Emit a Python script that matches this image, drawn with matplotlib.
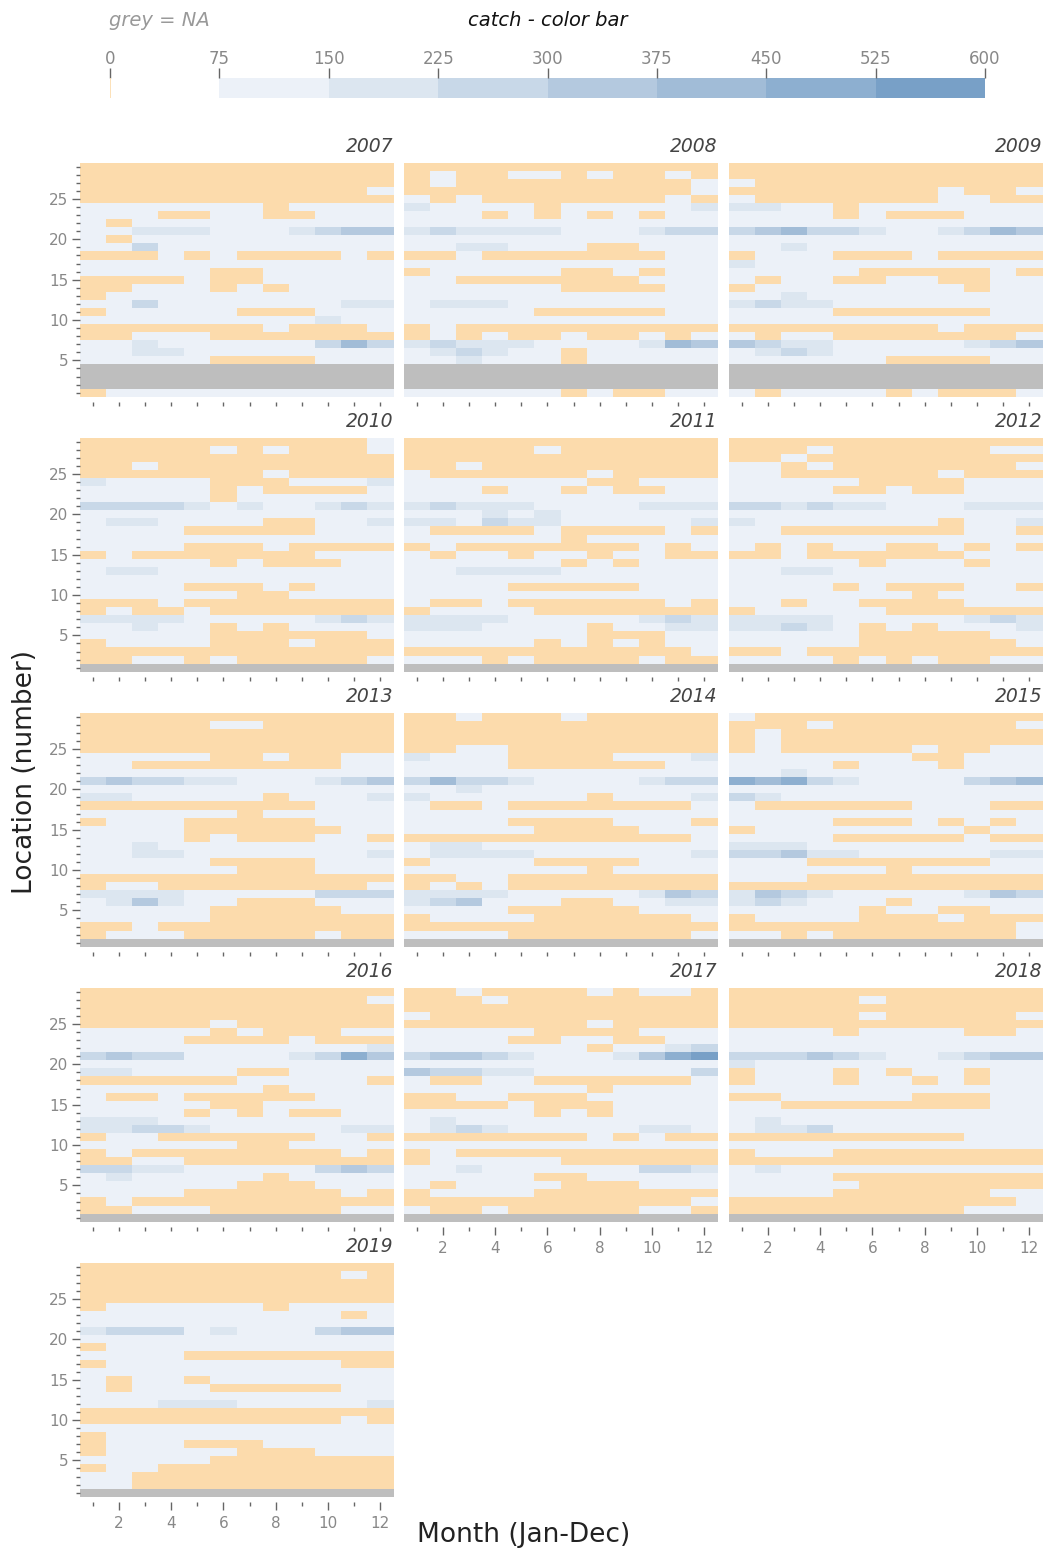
import numpy as np
import matplotlib
matplotlib.use('Agg')
import matplotlib.pyplot as plt
from matplotlib.colors import ListedColormap, BoundaryNorm

# ---- data -------------------------------------------------------------
years = [2007, 2008, 2009, 2010, 2011, 2012, 2013, 2014, 2015, 2016, 2017, 2018, 2019]
months = list(range(1, 13))
locations = list(range(1, 30))

# colour class of each cell, one string per location
# (location 29 first, Jan..Dec left to right)
# '0' = zero catch, '1'..'7' = catch class of the colour bar, '-' = NA
catch_2007 = ["000000000000", "000000000000", "000000000000", "000000000001", "000000000000",
              "111111101111", "111001100111", "101111111111", "112221112344", "101111111111",
              "113111111111", "000101000010", "111111111111", "111110011111", "000010011111",
              "001110101111", "011111111111", "113111111122", "011111000111", "111111111211",
              "000000010001", "001110000000", "112111111353", "112211111111", "111110000111",
              "------------", "------------", "------------", "011111111111"]
catch_2008 = ["000000000000", "010011010010", "010000000001", "000000000001", "101000000010",
              "211110111112", "111010101011", "111111111111", "232222111233", "111111111111",
              "112211100111", "001000000011", "111111111111", "011111001011", "110000000111",
              "111111000011", "111111111111", "122211111111", "111110000011", "111111111111",
              "010000000000", "010100100101", "232221111254", "123211011111", "112111011111",
              "------------", "------------", "------------", "111111010011"]
catch_2009 = ["000000000000", "000000000000", "100000000000", "000000001001", "100000001100",
              "221101111111", "111101000111", "111111111111", "345332112354", "111111111111",
              "112111111111", "011100010000", "211111111111", "111110000010", "101100110011",
              "011111111011", "112111111111", "232211111111", "111100000011", "111111111111",
              "000000001000", "101100000001", "432211111234", "123211111111", "111111000011",
              "------------", "------------", "------------", "101111010001"]
catch_2010 = ["000000000001", "000001010001", "000000000000", "001000000000", "000000010000",
              "211110001112", "111110100001", "111110111111", "333321211232", "111111111111",
              "122111100112", "111100000111", "111111111111", "111100010000", "010000000111",
              "111110100011", "122111111111", "111111111111", "111100010111", "111111001111",
              "000100000000", "010010000000", "222211111232", "112110101111", "111110000001",
              "011110001000", "000000000000", "001101000001", "------------"]
catch_2011 = ["000000000000", "000001000000", "000000000000", "001000000000", "100000010000",
              "111111100111", "111011010011", "111111111111", "232221111222", "111212111111",
              "221322111112", "100001000010", "111111011111", "010000000101", "101101101100",
              "111111010111", "112222111111", "111111111111", "111100000111", "111111111111",
              "100100000010", "011110000000", "222211111232", "222111101122", "111111100011",
              "111110101011", "000000000001", "111010000100", "------------"]
catch_2012 = ["000000000000", "000100000011", "001000000000", "110100000001", "110000001000",
              "111110000111", "111100100111", "111111111111", "332322111222", "111111111111",
              "211111110112", "110000000110", "111111111111", "101011001010", "001000000111",
              "111110111011", "112211111111", "111111111111", "111101000110", "111111101111",
              "110110000111", "011111000000", "222211111232", "223210101112", "111110000011",
              "111110000001", "001000000000", "111101010011", "------------"]
catch_2013 = ["000000000000", "000001100000", "000000000000", "000000000000", "000000000000",
              "111110010011", "110000000011", "111111111111", "343322111234", "111111111111",
              "221111101112", "000000000111", "111111011111", "011100000111", "111100000011",
              "111101000110", "112111111111", "112211111112", "111110000111", "111111000111",
              "000000000000", "011000000001", "222211111333", "124211000111", "111110000011",
              "111110000000", "001000000000", "011100000100", "------------"]
catch_2014 = ["001000100000", "000000000000", "000000000000", "000000000000", "001100000000",
              "211100001112", "111100000011", "111111111111", "353321111233", "112111111111",
              "211111101112", "100100000001", "111111111111", "111100001110", "111110000111",
              "000000000001", "122111111111", "122221111112", "011110000111", "111111101111",
              "001100000000", "010100000000", "222211111243", "234111001122", "111100000111",
              "011110000001", "000000000000", "111100000001", "------------"]
catch_2015 = ["100000000000", "000100000001", "010000000000", "010000000000", "010000010011",
              "111111100111", "111101110111", "112111111111", "656321111345", "111111111111",
              "321111111111", "100000011100", "111111111111", "111100010101", "011111111011",
              "111100000100", "222111111111", "334221111122", "111000000011", "111111011111",
              "111000000000", "000000000000", "243211111243", "232111011111", "111110110011",
              "011110001000", "000000000001", "110100000001", "------------"]
catch_2016 = ["000000000000", "000000000001", "000000000000", "000000000000", "000001000000",
              "111110100011", "111100001000", "111111111112", "343311112364", "111111111111",
              "221111001111", "000000111110", "111111101111", "100100000111", "111110011111",
              "111101010011", "222111111111", "223321111122", "011000000110", "111111001111",
              "010000000010", "001100000000", "332211111343", "121111101111", "111111000111",
              "111100000010", "010000000000", "001110000011", "------------"]
catch_2017 = ["001000010110", "000100000000", "000000000000", "100000000000", "000000010000",
              "111110000111", "111100110011", "111111101123", "344321112467", "111111111111",
              "433221111113", "100110000001", "111111101111", "001100011111", "000010001111",
              "111110101111", "121111111111", "123211111221", "000000010100", "111111111111",
              "010000000000", "011111000000", "112111111332", "111110011111", "101111000111",
              "011110000000", "000000000001", "100100000110", "------------"]
catch_2018 = ["000000000000", "000001000000", "000000000000", "000001000001", "000000000000",
              "111101111001", "111111111111", "111111111111", "333432112344", "211111111111",
              "011101011011", "011101101011", "111111111111", "001111100011", "110000000011",
              "111111111111", "121111111111", "122311111111", "000000000111", "111111111111",
              "011100000000", "000000000000", "121111111111", "111100000000", "111110000000",
              "111100000011", "000000000001", "000000000111", "------------"]
catch_2019 = ["000000000000", "000000000010", "000000000000", "000000000000", "000000000000",
              "011111101111", "111111111101", "111111111111", "233312111344", "111111111111",
              "011111111111", "111100000000", "011111111100", "111111111111", "101101111111",
              "101110000011", "111111111111", "111222111112", "000000000000", "000000000010",
              "111111111111", "011111111111", "011100011111", "011111000111", "111110000000",
              "011000000000", "110000000000", "110000000000", "------------"]
catch_grids = [catch_2007, catch_2008, catch_2009, catch_2010, catch_2011, catch_2012, catch_2013,
               catch_2014, catch_2015, catch_2016, catch_2017, catch_2018, catch_2019]

# typical catch of each colour class
class_catch = {'0': 0, '1': 60, '2': 190, '3': 260, '4': 340, '5': 410, '6': 490, '7': 560,
               '-': np.nan}

cbar_ticks = [0, 75, 150, 225, 300, 375, 450, 525, 600]

# ---- colours ----------------------------------------------------------
orange = '#FCDBAC'
blues = ['#ECF1F8', '#DCE6F0', '#C8D8E8', '#B4C9DF', '#A1BCD7', '#8DAFD0', '#78A0C7']
grey = '#BEBEBE'

cmap = ListedColormap([orange] + blues)
cmap.set_bad(grey)
norm = BoundaryNorm([-0.5, 0.5, 150, 225, 300, 375, 450, 525, 601], cmap.N)

W, H = 1048, 1551
fig = plt.figure(figsize=(W / 100, H / 100), dpi=100)

def px_axes(left, top, width, height):
    return fig.add_axes([left / W, 1 - (top + height) / H, width / W, height / H])

col_left = [79.5, 403.5, 728.5]
row_top = [162.7, 437.7, 712.7, 987.7, 1262.7]
panel_w, panel_h = 314, 234

x_edges = np.arange(0.5, 13, 1)
y_edges = np.arange(0.5, 30, 1)

for i, (year, grid) in enumerate(zip(years, catch_grids)):
    r, c = divmod(i, 3)
    ax = px_axes(col_left[c], row_top[r], panel_w, panel_h)
    z = np.array([[class_catch[ch] for ch in row] for row in grid[::-1]], dtype=float)
    ax.pcolormesh(x_edges, y_edges, np.ma.masked_invalid(z), cmap=cmap, norm=norm)
    ax.set_xlim(0.5, 12.5)
    ax.set_ylim(0.5, 29.5)
    for s in ax.spines.values():
        s.set_visible(False)
    ax.spines['bottom'].set_position(('outward', 4))
    ax.set_title(str(year), loc='right', style='italic', fontsize=13.5, color='#444444', pad=8)

    # month ticks
    bottom_row = i + 3 >= len(years)
    if bottom_row:
        ax.set_xticks([2, 4, 6, 8, 10, 12])
        ax.set_xticks([1, 3, 5, 7, 9, 11], minor=True)
        ax.tick_params(axis='x', which='major', length=6, width=1, color='#666666',
                       labelsize=11, labelcolor='#888888', pad=4)
        ax.tick_params(axis='x', which='minor', length=3, width=1, color='#666666')
    else:
        ax.set_xticks(months)
        ax.set_xticklabels([])
        ax.tick_params(axis='x', length=3, width=1, color='#666666')

    # location ticks
    if c == 0:
        ax.set_yticks([5, 10, 15, 20, 25])
        ax.set_yticks(locations, minor=True)
        ax.tick_params(axis='y', which='major', length=6, width=1, color='#666666',
                       labelsize=11, labelcolor='#888888', pad=2)
        ax.tick_params(axis='y', which='minor', length=3, width=1, color='#666666')
    else:
        ax.set_yticks([])

# ---- colour bar -------------------------------------------------------
cax = px_axes(110, 78, 875, 20)
cax.bar(cbar_ticks[1:-1], 1, width=np.diff(cbar_ticks[1:]), align='edge',
        color=blues, linewidth=0)
cax.axvline(0, color=orange, lw=1.2)
cax.set_xlim(0, 600)
cax.set_ylim(0, 1)
for s in cax.spines.values():
    s.set_visible(False)
cax.set_yticks([])
cax.xaxis.tick_top()
cax.set_xticks(cbar_ticks)
cax.tick_params(axis='x', length=7, width=1, color='#666666', labelsize=12,
                labelcolor='#888888', pad=0)
narrow = ['Liberation Sans Narrow', 'DejaVu Sans Condensed', 'DejaVu Sans']
for lab in cax.get_xticklabels():
    lab.set_family(narrow)

fig.text(159 / W, 1 - 20 / H, 'grey = NA', style='italic', color='#999999', fontsize=14,
         ha='center', va='center', family=narrow)
fig.text(548 / W, 1 - 20 / H, 'catch - color bar', style='italic', color='#111111', fontsize=14,
         ha='center', va='center', family=narrow)

# ---- axis titles ------------------------------------------------------
fig.text(25 / W, 1 - 772 / H, 'Location (number)', rotation=90, fontsize=19, color='#222222',
         ha='center', va='center')
fig.text(524 / W, 1 - 1535 / H, 'Month (Jan-Dec)', fontsize=19, color='#222222',
         ha='center', va='center')

fig.savefig('out.png', dpi=100, facecolor='white')
